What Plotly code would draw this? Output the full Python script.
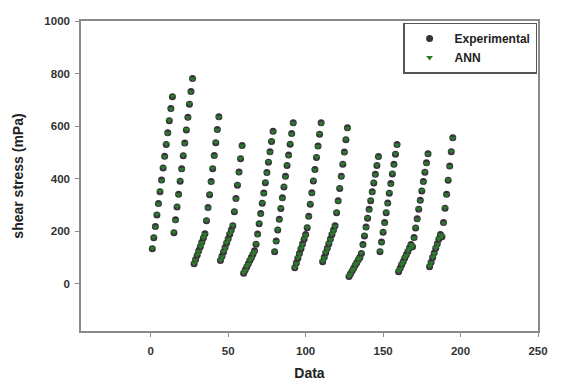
import plotly.graph_objects as go

# Shear stress (mPa), experimental (groups bottom -> top)
experimental = [
    133, 175, 218, 262, 305, 350, 395, 440, 485, 530, 575, 620, 667, 712,
    194, 243, 292, 341, 390, 438, 487, 536, 585, 634, 683, 732, 781,
    76, 92, 108, 125, 141, 158, 174, 190,
    240, 290, 339, 389, 438, 488, 537, 587, 636,
    88, 105, 121, 138, 155, 171, 188, 204, 221,
    274, 324, 375, 425, 476, 526,
    40, 52, 64, 76, 88, 100, 112, 125,
    150, 189, 228, 267, 306, 345, 384, 423, 462, 502, 541, 580,
    122, 163, 204, 245, 286, 327, 368, 409, 450, 490, 531, 572, 613,
    61, 79, 97, 115, 133, 151, 169, 187,
    213, 257, 302, 346, 391, 435, 480, 524, 569, 613,
    84, 101, 118, 135, 152, 170, 187, 204, 221,
    270, 316, 362, 409, 455, 501, 548, 594,
    27, 38, 48, 59, 70, 80, 91, 100,
    115, 149, 182, 216, 249, 283, 316, 350, 383, 417, 450, 484,
    122, 159, 196, 233, 270, 307, 344, 381, 418, 455, 493, 530,
    46, 59, 72, 85, 98, 110, 123, 136, 149,
    141, 176, 212, 247, 283, 318, 353, 389, 424, 460, 495,
    65, 82, 100, 117, 135, 152, 170, 187,
    179, 233, 287, 341, 394, 448, 502, 556,
]

# ANN predictions (nearly coincident with experimental)
ann = [
    135, 177, 216, 264, 303, 352, 393, 442, 483, 532, 573, 622, 665, 714,
    196, 241, 294, 339, 392, 436, 489, 534, 587, 632, 685, 730, 779,
    78, 90, 110, 123, 143, 156, 176, 188,
    242, 288, 341, 387, 440, 486, 539, 585, 634,
    90, 103, 123, 136, 157, 169, 190, 202, 223,
    276, 322, 377, 423, 478, 524,
    42, 50, 66, 74, 90, 98, 114, 123,
    152, 187, 230, 265, 308, 343, 386, 421, 464, 500, 543, 578,
    124, 161, 206, 243, 288, 325, 370, 407, 452, 488, 533, 570, 611,
    63, 77, 99, 113, 135, 149, 171, 185,
    215, 255, 304, 344, 393, 433, 482, 522, 571, 611,
    86, 99, 120, 133, 154, 168, 189, 202, 219,
    272, 314, 364, 407, 457, 499, 550, 592,
    29, 36, 50, 57, 72, 78, 93, 98,
    117, 147, 184, 214, 251, 281, 318, 348, 385, 415, 452, 482,
    124, 157, 198, 231, 272, 305, 346, 379, 420, 453, 495, 528,
    48, 57, 74, 83, 100, 108, 125, 134, 147,
    143, 174, 214, 245, 285, 316, 355, 387, 426, 458, 493,
    67, 80, 102, 115, 137, 150, 172, 185,
    181, 231, 289, 339, 396, 446, 504, 554,
]

data_index = list(range(1, len(experimental) + 1))

x_ticks = [0, 50, 100, 150, 200, 250]
y_ticks = [0, 200, 400, 600, 800, 1000]

fig = go.Figure()
fig.add_trace(go.Scatter(
    x=data_index, y=experimental, mode="markers", name="<b>Experimental</b>", legendrank=1,
    marker=dict(symbol="circle", size=7, color="#3a303c",
                line=dict(width=0)),
))
fig.add_trace(go.Scatter(
    x=data_index, y=ann, mode="markers", name="<b>ANN</b>", legendrank=2,
    marker=dict(symbol="triangle-down", size=6, color="#2b7a2b",
                line=dict(width=0)),
))

axis_font = dict(family="Liberation Sans", size=11.5, color="#333333")
title_font = dict(family="Liberation Sans", size=14, color="#222222")

fig.update_layout(
    width=567, height=377,
    margin=dict(l=73, r=37, t=13, b=54),
    paper_bgcolor="white", plot_bgcolor="white",
    showlegend=True,
    legend=dict(
        x=0.998, y=0.995, xanchor="right", yanchor="top",
        bgcolor="white", bordercolor="#555555", borderwidth=1.5,
        font=dict(family="Liberation Sans", size=12, color="#222222"),
        itemsizing="trace", tracegroupgap=0, itemwidth=40,
    ),
    xaxis=dict(
        range=[-45, 250], tickvals=x_ticks,
        ticktext=[f"<b>{t}</b>" for t in x_ticks],
        showgrid=False, zeroline=False, automargin=False,
        showline=True, linecolor="#8a8a8a", linewidth=1.5, mirror=True,
        ticks="outside", ticklen=4, tickcolor="#8a8a8a", tickwidth=1,
        tickfont=axis_font, ticklabelstandoff=4,
        title=dict(text="<b>Data</b>", font=title_font, standoff=13),
    ),
    yaxis=dict(
        range=[-180, 1000], tickvals=y_ticks,
        ticktext=[f"<b>{t}</b>" for t in y_ticks],
        showgrid=False, zeroline=False, automargin=False,
        showline=True, linecolor="#8a8a8a", linewidth=1.5, mirror=True,
        ticks="outside", ticklen=4, tickcolor="#8a8a8a", tickwidth=1,
        tickfont=axis_font, ticklabelstandoff=3,
        title=dict(text="<b>shear stress (mPa)</b>", font=title_font, standoff=17),
    ),
)

fig.write_html("out.html")
